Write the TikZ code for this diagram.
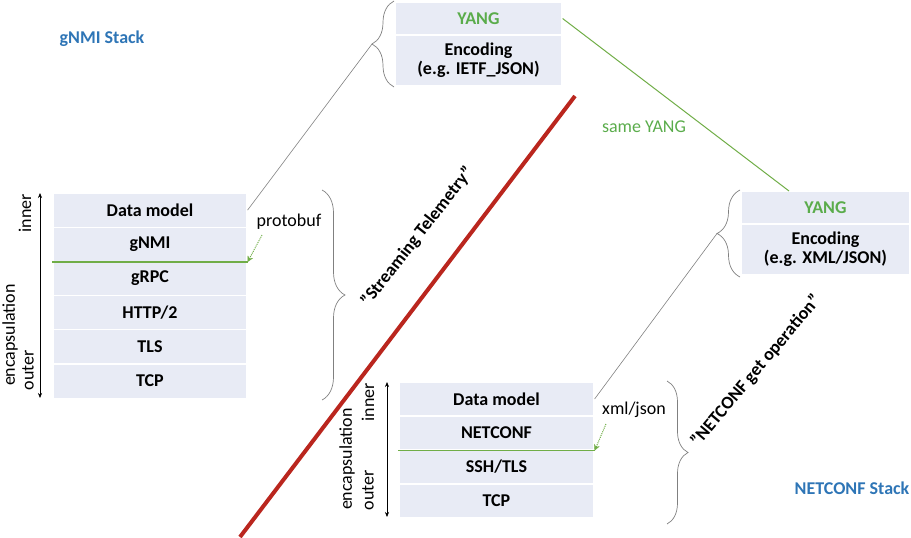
\documentclass[tikz,border=0pt]{standalone}
\usepackage{fontspec}
\setmainfont{Carlito}
\usetikzlibrary{arrows.meta,decorations.pathreplacing,calc}
\definecolor{boxfill}{RGB}{232,235,245}
\definecolor{lgreen}{RGB}{112,173,71}
\definecolor{tgreen}{RGB}{90,172,75}
\definecolor{sblue}{RGB}{46,117,182}
\definecolor{dred}{RGB}{186,38,30}
\definecolor{cgray}{RGB}{128,128,128}
\begin{document}
\begin{tikzpicture}[x=1pt,y=-1pt,
  txt/.style={font=\fontsize{18}{19}\selectfont, inner sep=0pt},
  row/.style={fill=boxfill, draw=white, line width=1.2pt, inner sep=0pt,
    font=\fontsize{18}{19}\selectfont\bfseries, align=center},
  lrow/.style={row, minimum width=194pt, minimum height=34.2pt},
  brow/.style={row, minimum width=195pt, minimum height=34pt},
  trow/.style={row, minimum width=167pt},
  rrow/.style={row, minimum width=169pt},
  stacklabel/.style={txt, font=\fontsize{18}{19}\selectfont\bfseries, text=sblue},
  rotlabel/.style={txt, rotate=90},
  sep/.style={draw=lgreen, line width=1.5pt},
  dotarrow/.style={draw=lgreen, line width=1pt, densely dotted,
    -{Stealth[length=6pt,width=6pt,fill=lgreen,line width=0.4pt,sep=0pt]}},
  graylink/.style={draw=cgray, line width=0.6pt},
  bracestyle/.style={draw=cgray, line width=0.7pt, decorate},
  layers/.style={draw=black, line width=0.6pt, {Stealth[length=5pt,width=4pt]}-{Stealth[length=5pt,width=4pt]}}
]
\useasboundingbox (0,0) rectangle (911,538);

% ---------- gNMI stack ----------
\node[lrow] (dm1)  at (150,210.1) {Data model};
\node[lrow] (gnmi) at (150,244.3) {gNMI};
\node[lrow] (grpc) at (150,278.5) {gRPC};
\node[lrow] (http) at (150,312.7) {HTTP/2};
\node[lrow] (tls1) at (150,346.9) {TLS};
\node[lrow] (tcp1) at (150,381.1) {TCP};
\draw[sep] (gnmi.south west) -- (gnmi.south east);

\coordinate (a1top) at (40,193);
\coordinate (a1bot) at (40,398);
\draw[layers] (a1top) -- (a1bot);
\node[rotlabel] (inner1) at (25,213) {inner};
\node[rotlabel] (encap1) at (10,335) {encapsulation};
\node[rotlabel] (outer1) at (28,370) {outer};

\node[txt] (pbuf) at (289,222) {protobuf};
\coordinate (pbstart) at (262,235);
\draw[dotarrow] (pbstart) -- (gnmi.south east);

\draw[bracestyle, decoration={brace, amplitude=23pt}] (322,190) -- (322,400);

\node[stacklabel] (gstack) at (102,39) {gNMI Stack};

% ---------- top YANG box ----------
\node[trow, minimum height=33pt, text=tgreen] (yang1) at (478.5,18.5) {YANG};
\node[trow, minimum height=51pt] (enc1) at (478.5,60.5) {Encoding\\(e.g. IETF\_JSON)};
\draw[bracestyle, decoration={brace, amplitude=22pt}] (394,87) -- (394,1);
\coordinate (tbtip) at (372,44);
\draw[graylink] (dm1.east) -- (tbtip);

% ---------- right YANG box ----------
\node[rrow, minimum height=33pt, text=tgreen] (yang2) at (825.5,207.5) {YANG};
\node[rrow, minimum height=51pt] (enc2) at (825.5,249.5) {Encoding\\(e.g. XML/JSON)};
\draw[bracestyle, decoration={brace, amplitude=23pt}] (740,277) -- (740,190);
\coordinate (rbtip) at (717,233.5);

% same YANG link
\coordinate (yang2top) at (789,191);
\draw[draw=lgreen, line width=1pt] (yang1.east) -- (yang2top);
\node[txt, text=tgreen] (sameyang) at (644,127) {same YANG};

% ---------- divider ----------
\coordinate (redtop) at (575,96);
\coordinate (redbot) at (240,537);
\draw[dred, line width=4pt] (redtop) -- (redbot);
\node[txt, font=\fontsize{18}{19}\selectfont\bfseries, rotate=52] (st) at (417.5,236.5) {"Streaming Telemetry"};

% ---------- NETCONF stack ----------
\node[brow] (dm2)     at (496.5,399) {Data model};
\node[brow] (netconf) at (496.5,433) {NETCONF};
\node[brow] (ssh)     at (496.5,467) {SSH/TLS};
\node[brow] (tcp2)    at (496.5,501) {TCP};
\draw[sep] (netconf.south west) -- (netconf.south east);

\coordinate (a2top) at (387,382);
\coordinate (a2bot) at (387,517);
\draw[layers] (a2top) -- (a2bot);
\node[rotlabel] (inner2) at (368,402) {inner};
\node[rotlabel] (encap2) at (347,459) {encapsulation};
\node[rotlabel] (outer2) at (368,490) {outer};

\node[txt] (xj) at (634,410) {xml/json};
\coordinate (xjstart) at (606,424);
\draw[dotarrow] (xjstart) -- (netconf.south east);

\draw[bracestyle, decoration={brace, amplitude=21pt}] (667,381) -- (667,524);
\draw[graylink] (dm2.east) -- (rbtip);

\node[txt, font=\fontsize{18}{19}\selectfont\bfseries, rotate=50] (ng) at (756,371) {"NETCONF get operation"};
\node[stacklabel] (nstack) at (852,488) {NETCONF Stack};
\end{tikzpicture}
\end{document}
